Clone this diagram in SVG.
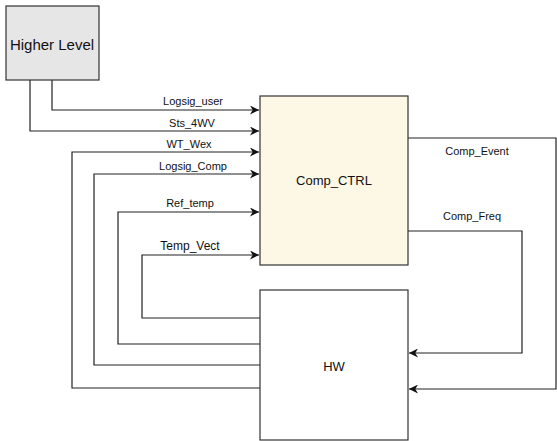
<svg xmlns="http://www.w3.org/2000/svg" width="557" height="441" viewBox="0 0 557 441">
<style>
.box{stroke:#333;stroke-width:1.2}
.w{fill:none;stroke:#222;stroke-width:1.2}
.lbl{font-family:"Liberation Sans",Arial,sans-serif;font-size:11px;fill:#111;text-anchor:middle}
.big{font-family:"Liberation Sans",Arial,sans-serif;font-size:13px;fill:#111;text-anchor:middle}
</style>
<defs>
<marker id="ah" viewBox="0 0 10 10" refX="10" refY="5" markerWidth="9" markerHeight="9" markerUnits="userSpaceOnUse" orient="auto">
<path d="M0,0 L10,5 L0,10 L3,5 Z" fill="#111"/>
</marker>
</defs>
<rect width="557" height="441" fill="#fff"/>
<g id="connectors">
<polyline class="w" points="52,80 52,110 259,110" marker-end="url(#ah)"/>
<polyline class="w" points="30,80 30,131 259,131" marker-end="url(#ah)"/>
<polyline class="w" points="260,388 72,388 72,152 259,152" marker-end="url(#ah)"/>
<polyline class="w" points="260,365 94,365 94,174 259,174" marker-end="url(#ah)"/>
<polyline class="w" points="260,344 118,344 118,212 259,212" marker-end="url(#ah)"/>
<polyline class="w" points="260,318 142,318 142,255 259,255" marker-end="url(#ah)"/>
<polyline class="w" points="408,138 556,138 556,389 409,389" marker-end="url(#ah)"/>
<polyline class="w" points="408,231 522,231 522,353 409,353" marker-end="url(#ah)"/>
<text class="lbl" x="193" y="105">Logsig_user</text>
<text class="lbl" x="192" y="127">Sts_4WV</text>
<text class="lbl" x="189" y="148">WT_Wex</text>
<text class="lbl" x="193" y="170">Logsig_Comp</text>
<text class="lbl" x="190" y="207">Ref_temp</text>
<text class="lbl" x="190" y="250" style="font-size:12px">Temp_Vect</text>
<text class="lbl" x="477" y="155">Comp_Event</text>
<text class="lbl" x="472" y="220">Comp_Freq</text>
</g>
<g id="higher-level">
<rect class="box" x="6" y="6" width="93" height="74" fill="#e6e6e6"/>
<text x="52" y="50" font-family="'Liberation Sans',Arial,sans-serif" font-size="15" fill="#111" text-anchor="middle">Higher Level</text>
</g>
<g id="comp-ctrl">
<rect class="box" x="260" y="96" width="148" height="169" fill="#fdf8e6"/>
<text class="big" x="334" y="185">Comp_CTRL</text>
</g>
<g id="hw">
<rect class="box" x="260" y="290" width="148" height="150" fill="#fff"/>
<text class="big" x="334" y="371">HW</text>
</g>
</svg>
